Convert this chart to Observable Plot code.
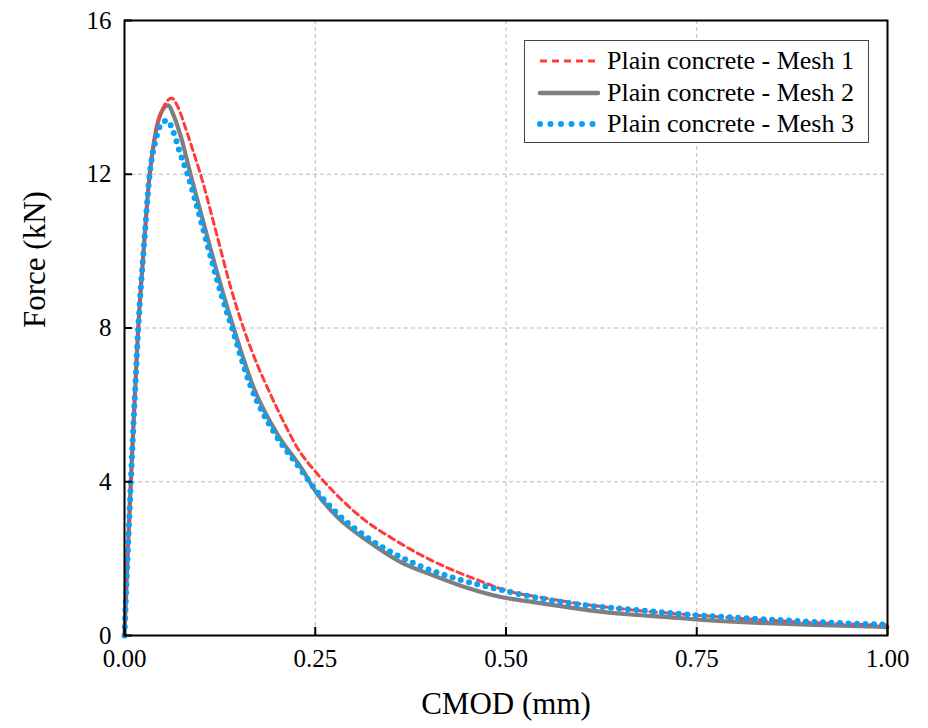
<!DOCTYPE html>
<html><head><meta charset="utf-8">
<script src="https://cdn.jsdelivr.net/npm/d3@7"></script>
<script src="https://cdn.jsdelivr.net/npm/@observablehq/plot@0.6"></script>
<style>
body{margin:0;background:#fff;}
#wrap{position:relative;width:928px;height:728px;}
#legend{position:absolute;left:524px;top:40px;width:345px;height:103px;border:1px solid #444;background:#fff;box-sizing:border-box;font-family:"Liberation Serif",serif;font-size:26px;color:#000;}
.row{position:absolute;left:0;height:32px;display:flex;align-items:center;}
.row svg{margin-left:12px;margin-right:6px;}
</style>
</head><body>
<div id="wrap"></div>
<script>
// ---- data ----
const xTicks = [0, 0.25, 0.5, 0.75, 1.0];
const xTickLabels = ["0.00", "0.25", "0.50", "0.75", "1.00"];
const yTicks = [0, 4, 8, 12, 16];
const seriesNames = ["Plain concrete - Mesh 1", "Plain concrete - Mesh 2", "Plain concrete - Mesh 3"];

const cmod1 = [0,0.0017,0.004,0.0085,0.013,0.018,0.025,0.033,0.041,0.05,0.062,0.07,0.08,0.09,0.0996,0.12,0.14,0.1576,0.175,0.191,0.21,0.226,0.2525,0.279,0.3136,0.353,0.388,0.42,0.466,0.5,0.55,0.6,0.667,0.755,0.842,0.929,1.0];
const force1 = [0,0.9,2,4,6,8,10,12,13.1,13.7,13.98,13.75,13.2,12.6,12,10.5,9.0,7.9,7.0,6.29,5.5,4.9,4.21,3.64,3.02,2.5,2.1,1.79,1.42,1.17,0.98,0.82,0.66,0.52,0.40,0.31,0.27];

const cmod2 = [0,0.0017,0.004,0.0083,0.013,0.018,0.025,0.033,0.040,0.048,0.057,0.065,0.075,0.0865,0.1,0.115,0.13,0.143,0.169,0.2,0.231,0.2525,0.279,0.318,0.362,0.405,0.449,0.493,0.536,0.58,0.624,0.667,0.711,0.755,0.798,0.842,0.886,0.929,1.0];
const force2 = [0,0.9,2,4,6,8,10,12,13.0,13.6,13.79,13.5,12.9,12,11.0,9.9,8.85,8.0,6.46,5.25,4.38,3.69,3.08,2.47,1.91,1.56,1.24,1.0,0.87,0.74,0.62,0.54,0.48,0.41,0.36,0.32,0.29,0.26,0.22];

const cmod3 = [0,0.0017,0.004,0.0083,0.013,0.018,0.025,0.033,0.041,0.048,0.056,0.064,0.072,0.0826,0.1,0.115,0.128,0.141,0.165,0.197,0.228,0.25,0.28,0.318,0.362,0.405,0.44,0.493,0.536,0.595,0.667,0.755,0.842,0.929,1.0];
const force3 = [0,0.9,2,4,6,8,10,12,12.9,13.3,13.4,13.1,12.6,12,10.8,9.7,8.8,8.0,6.5,5.25,4.4,3.8,3.15,2.55,2.04,1.67,1.45,1.19,1.0,0.81,0.67,0.52,0.42,0.33,0.28];

const colors = ["#ff3b3b", "#7f7f7f", "#0aa0f5"];

const rows = [];
[[cmod1, force1], [cmod2, force2], [cmod3, force3]].forEach(([xs, ys], i) => {
  xs.forEach((x, j) => rows.push({series: seriesNames[i], cmod: x, force: ys[j]}));
});
const bySeries = s => rows.filter(d => d.series === s);

const W = 928, H = 728;
const mL = 124, mR = 41, mT = 20, mB = 93;
const FONT = "Liberation Serif";

const chart = Plot.plot({
  width: W, height: H,
  marginLeft: mL, marginRight: mR, marginTop: mT, marginBottom: mB,
  style: {fontFamily: FONT, fontSize: "25px", color: "#000", background: "#fff"},
  x: {domain: [0, 1], label: null},
  y: {domain: [0, 16], label: null},
  marks: [
    Plot.gridX(xTicks.slice(1, -1), {stroke: "#b8b8b8", strokeOpacity: 1, strokeDasharray: "4,3", strokeWidth: 1}),
    Plot.gridY(yTicks.slice(1, -1), {stroke: "#b8b8b8", strokeOpacity: 1, strokeDasharray: "4,3", strokeWidth: 1}),
    Plot.line(bySeries(seriesNames[1]), {x: "cmod", y: "force", stroke: colors[1], strokeWidth: 4.2, curve: "monotone-x"}),
    Plot.line(bySeries(seriesNames[0]), {x: "cmod", y: "force", stroke: colors[0], strokeWidth: 3, strokeDasharray: "6.5,4.5", curve: "monotone-x"}),
    Plot.line(bySeries(seriesNames[2]), {x: "cmod", y: "force", stroke: colors[2], strokeWidth: 6, strokeLinecap: "round", strokeDasharray: "0,8.5", curve: "monotone-x"}),
    Plot.tickX(xTicks, {x: d => d, stroke: "#000", strokeWidth: 2, insetTop: H - mT - mB - 8}),
    Plot.tickY(yTicks, {y: d => d, stroke: "#000", strokeWidth: 2, insetRight: W - mL - mR - 8}),
    Plot.axisX(xTicks, {tickSize: 0, tickPadding: 14, tickFormat: (d, i) => xTickLabels[i], fontSize: 25, label: null}),
    Plot.axisY(yTicks, {tickSize: 0, tickPadding: 13, fontSize: 25, label: null}),
    Plot.frame({stroke: "#000", strokeWidth: 2}),
    Plot.text(["CMOD (mm)"], {frameAnchor: "bottom", dy: 78, fontSize: 31, fill: "#000"}),
    Plot.text(["Force (kN)"], {frameAnchor: "left", dx: -89, rotate: -90, fontSize: 31, fill: "#000"})
  ]
});

const wrap = document.getElementById("wrap");
wrap.appendChild(chart);

// legend
const legend = document.createElement("div");
legend.id = "legend";
const styles = [
  {stroke: colors[0], width: 3, dash: "7,5", cap: "butt"},
  {stroke: colors[1], width: 4.5, dash: null, cap: "round"},
  {stroke: colors[2], width: 6, dash: "0,10.5", cap: "round"}
];
seriesNames.forEach((name, i) => {
  const row = document.createElement("div");
  row.className = "row";
  row.style.top = (4 + i * 31.5) + "px";
  const s = styles[i];
  row.innerHTML = `<svg width="64" height="12"><line x1="3" y1="6" x2="61" y2="6" stroke="${s.stroke}" stroke-width="${s.width}" stroke-linecap="${s.cap}" ${s.dash ? `stroke-dasharray="${s.dash}"` : ""}/></svg><span>${name}</span>`;
  legend.appendChild(row);
});
wrap.appendChild(legend);
</script>
</body></html>
